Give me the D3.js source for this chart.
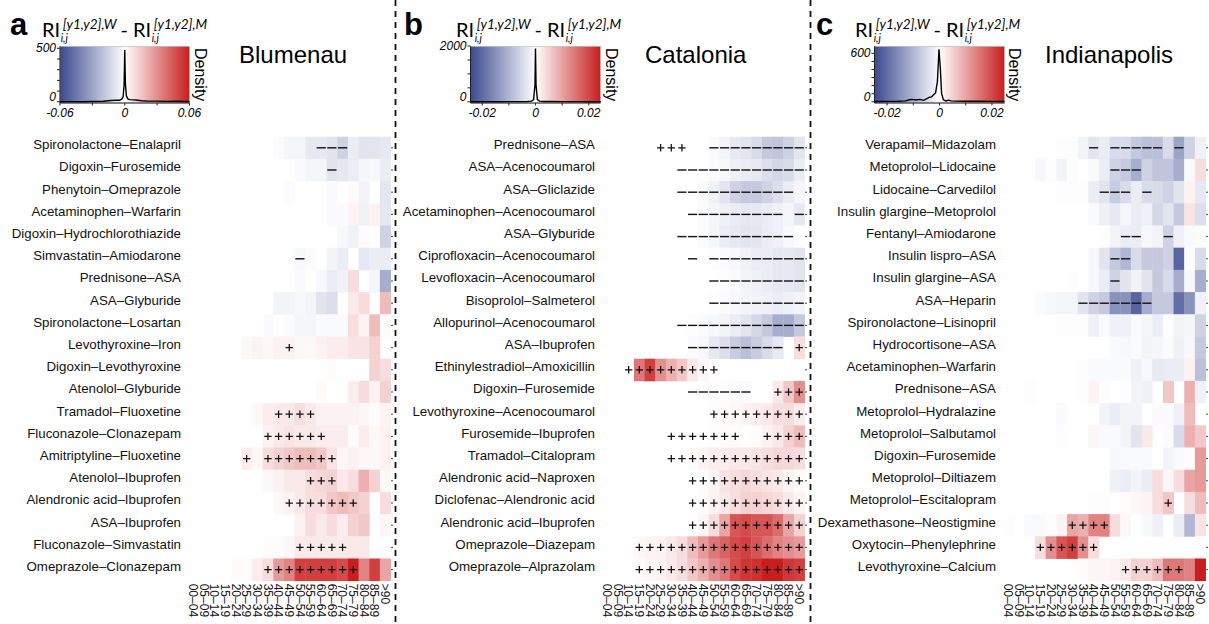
<!DOCTYPE html>
<html><head><meta charset="utf-8">
<script src="https://cdn.jsdelivr.net/npm/d3@7"></script>
<style>body{margin:0;background:#fff}svg{display:block}</style>
</head><body><svg id="chart" width="1209" height="624"></svg>
<script>
// ---------------- DATA ----------------
const ageGroups = ["00–04","05–09","10–14","15–19","20–24","25–29","30–34","35–39","40–44","45–49","50–54","55–59","60–64","65–69","70–74","75–79","80–84","85–89",">90"];

const drugsA = ["Spironolactone–Enalapril","Digoxin–Furosemide","Phenytoin–Omeprazole","Acetaminophen–Warfarin","Digoxin–Hydrochlorothiazide","Simvastatin–Amiodarone","Prednisone–ASA","ASA–Glyburide","Spironolactone–Losartan","Levothyroxine–Iron","Digoxin–Levothyroxine","Atenolol–Glyburide","Tramadol–Fluoxetine","Fluconazole–Clonazepam","Amitriptyline–Fluoxetine","Atenolol–Ibuprofen","Alendronic acid–Ibuprofen","ASA–Ibuprofen","Fluconazole–Simvastatin","Omeprazole–Clonazepam"];
const valuesA = [
 [0,0,0,0,0,0,0,0,-.02,-.05,-.05,-.12,-.12,-.15,-.25,-.1,-.15,-.15,-.12],
 [0,0,0,0,0,0,0,0,0,0,-.02,-.05,-.05,-.15,-.13,-.1,-.05,-.04,-.1],
 [0,0,0,0,0,0,0,0,0,-.02,0,0,0,-.02,0,.02,-.06,0,-.14],
 [0,0,0,0,0,0,0,0,0,0,0,0,0,-.02,-.02,.05,-.07,.06,-.13],
 [0,0,0,0,0,0,0,0,0,0,0,0,0,0,-.04,-.07,.02,0,-.25],
 [0,0,0,0,0,0,0,0,0,0,-.04,-.02,0,-.06,-.1,0,-.13,-.1,-.1],
 [0,0,0,0,0,0,0,0,0,0,-.02,0,-.04,-.1,-.07,.15,0,-.05,-.45],
 [0,0,0,0,0,0,0,0,-.06,-.06,-.04,-.06,-.15,-.18,0,.1,.15,0,.3],
 [0,0,0,0,0,0,0,-.02,0,-.02,-.05,-.05,-.03,-.03,-.03,.15,.05,.3,.02],
 [0,0,0,0,0,.03,.05,.03,.06,.06,.03,.03,.06,.08,.08,.12,.12,.2,0],
 [0,0,0,0,0,0,0,0,0,0,0,0,0,.02,0,0,0,.2,.15],
 [0,0,0,0,0,0,0,0,0,0,0,0,.02,0,0,.08,.15,.06,.2],
 [0,0,0,0,0,0,.03,.08,.1,.1,.15,.1,.06,.06,.06,.06,.04,.02,.05],
 [0,0,0,0,0,0,0,.06,.1,.12,.1,.1,.08,.08,.08,.02,.08,.03,.06],
 [0,0,0,0,0,.08,.04,.15,.2,.25,.3,.3,.25,.12,.04,.06,.03,.03,.06],
 [0,0,0,0,0,0,0,.03,.06,.1,.1,.15,.18,.2,.1,.15,.35,.2,.03],
 [0,0,0,0,0,0,0,0,.03,.06,.1,.15,.15,.25,.3,.25,.2,0,.15],
 [0,0,0,0,0,0,0,0,0,0,.06,.15,.1,.15,.08,.2,.25,0,.04],
 [0,0,0,0,0,0,0,.02,.02,.04,.1,.1,.1,.1,.1,.1,.1,0,0],
 [0,0,0,0,.02,.02,.08,.15,.45,.55,.85,.85,.85,.85,.8,1,.55,.85,.4]
];
const marksA = [
 "............---....",
 ".............-.....",
 "...................",
 "...................",
 "...................",
 "..........-........",
 "...................",
 "...................",
 "...................",
 ".........+.........",
 "...................",
 "...................",
 "........++++.......",
 ".......++++++......",
 ".....+.+++++++.....",
 "...........+++.....",
 ".........+++++++...",
 "...................",
 "..........+++++....",
 ".......+++++++++..."
];

const drugsB = ["Prednisone–ASA","ASA–Acenocoumarol","ASA–Gliclazide","Acetaminophen–Acenocoumarol","ASA–Glyburide","Ciprofloxacin–Acenocoumarol","Levofloxacin–Acenocoumarol","Bisoprolol–Salmeterol","Allopurinol–Acenocoumarol","ASA–Ibuprofen","Ethinylestradiol–Amoxicillin","Digoxin–Furosemide","Levothyroxine–Acenocoumarol","Furosemide–Ibuprofen","Tramadol–Citalopram","Alendronic acid–Naproxen","Diclofenac–Alendronic acid","Alendronic acid–Ibuprofen","Omeprazole–Diazepam","Omeprazole–Alprazolam"];
const valuesB = [
 [0,0,0,0,0,0,0,0,0,0,-.02,-.06,-.12,-.15,-.2,-.3,-.32,-.25,-.15],
 [0,0,0,0,0,0,0,0,0,0,-.02,-.04,-.08,-.1,-.12,-.18,-.22,-.2,-.1],
 [0,0,0,0,0,0,0,0,0,-.02,-.08,-.15,-.25,-.3,-.3,-.25,-.18,-.1,-.05],
 [0,0,0,0,0,0,0,0,0,-.02,-.05,-.08,-.1,-.12,-.12,-.1,-.08,-.05,-.12],
 [0,0,0,0,0,0,0,0,0,-.02,-.05,-.1,-.12,-.15,-.14,-.1,-.08,-.04,-.01],
 [0,0,0,0,0,0,0,0,0,0,-.01,-.02,-.04,-.07,-.1,-.1,-.12,-.12,-.15],
 [0,0,0,0,0,0,0,0,0,0,0,-.01,-.03,-.06,-.08,-.1,-.12,-.12,-.15],
 [0,0,0,0,0,0,0,0,0,0,-.01,-.02,-.04,-.06,-.07,-.08,-.1,-.08,-.06],
 [0,0,0,0,0,0,0,0,-.01,-.02,-.04,-.06,-.1,-.15,-.22,-.3,-.45,-.45,-.3],
 [0,0,0,0,0,0,0,0,-.02,-.04,-.12,-.18,-.28,-.35,-.28,-.2,-.12,0,.15],
 [0,0,0,.6,.85,.5,.35,.25,.1,.03,0,0,0,0,0,0,0,0,0],
 [0,0,0,0,0,0,0,0,0,0,-.01,-.01,-.02,-.02,0,0,.1,.25,.5],
 [0,0,0,0,0,0,0,0,0,0,.01,.02,.03,.05,.08,.1,.15,.15,.08],
 [0,0,0,0,0,0,0,0,0,0,.01,.02,.02,0,.02,.06,.1,.2,.3],
 [0,0,0,0,0,0,0,0,.02,.06,.08,.08,.1,.1,.12,.15,.18,.18,.15],
 [0,0,0,0,0,0,0,0,0,.02,.05,.12,.15,.18,.15,.12,.1,.05,.02],
 [0,0,0,0,0,0,0,0,0,.02,.06,.1,.15,.2,.2,.18,.15,.1,.06],
 [0,0,0,0,0,0,0,0,0,.04,.15,.4,.75,.8,.75,.75,.65,.4,.2],
 [0,0,0,.03,.05,.06,.1,.15,.3,.45,.6,.7,.8,.85,.75,.65,.55,.5,.45],
 [0,0,0,.02,.04,.06,.1,.15,.25,.35,.5,.6,.8,.9,.92,1,1,.9,.85]
];
const marksB = [
 ".....+++..---------",
 ".......------------",
 ".......-----------.",
 "........---------.-",
 ".......-----------.",
 "........-.---------",
 "..........---------",
 "..........---------",
 ".......------------",
 "........---------.+",
 "..+++++++++........",
 "........------..+++",
 "..........+++++++++",
 "......+++++++..++++",
 "......+++++++++++++",
 "........+++++++++++",
 "........+++++++++++",
 "........+++++++++++",
 "...++++++++++++++++",
 "...++++++++++++++++"
];

const drugsC = ["Verapamil–Midazolam","Metoprolol–Lidocaine","Lidocaine–Carvedilol","Insulin glargine–Metoprolol","Fentanyl–Amiodarone","Insulin lispro–ASA","Insulin glargine–ASA","ASA–Heparin","Spironolactone–Lisinopril","Hydrocortisone–ASA","Acetaminophen–Warfarin","Prednisone–ASA","Metoprolol–Hydralazine","Metoprolol–Salbutamol","Digoxin–Furosemide","Metoprolol–Diltiazem","Metoprolol–Escitalopram","Dexamethasone–Neostigmine","Oxytocin–Phenylephrine","Levothyroxine–Calcium"];
const valuesC = [
 [0,0,0,0,0,-.01,-.01,-.06,-.15,-.1,-.2,-.2,-.3,-.35,-.35,-.2,-.5,-.25,-.08],
 [0,0,0,-.04,.01,-.06,-.01,0,-.03,-.1,-.25,-.3,-.45,-.25,-.32,-.32,-.45,-.03,.15],
 [0,0,0,0,0,-.01,.01,-.01,-.1,-.15,-.28,-.2,-.1,-.2,-.2,-.25,-.15,.06,-.12],
 [0,0,0,0,0,0,0,0,-.03,-.08,-.12,-.05,-.1,-.08,-.22,-.15,-.3,.12,-.18],
 [0,0,0,0,0,0,0,0,0,-.01,-.06,-.1,-.1,-.04,-.06,-.25,-.08,-.03,.02],
 [0,0,0,0,0,0,0,0,-.04,-.15,-.3,-.4,-.2,-.3,-.3,-.25,-.85,.01,-.2],
 [0,0,0,0,0,0,.01,0,-.04,-.1,-.25,-.15,-.07,-.15,-.3,-.2,-.45,-.04,-.45],
 [0,0,0,-.02,-.04,-.05,-.05,-.15,-.25,-.3,-.6,-.6,-.85,-.45,-.3,-.3,-.8,-.6,-.07],
 [0,0,0,0,0,-.01,-.01,-.01,-.08,-.03,-.08,-.08,-.03,-.05,-.1,-.01,-.06,-.05,-.25],
 [0,0,0,0,0,0,0,0,0,0,-.03,-.04,-.02,-.06,-.05,-.02,-.08,-.04,-.3],
 [0,0,0,0,0,0,0,-.01,-.03,-.03,-.03,-.03,-.08,-.04,-.12,-.1,-.1,.06,-.35],
 [0,0,.01,0,0,0,0,.01,.05,.01,0,-.01,-.06,-.08,0,.25,0,.35,-.08],
 [0,0,0,0,0,-.02,0,0,0,-.06,-.1,-.06,-.06,0,-.02,-.03,-.08,.3,0],
 [0,0,0,0,0,-.01,0,0,.04,-.03,-.03,-.06,-.15,.1,0,-.02,-.2,.35,.25],
 [0,0,0,0,0,0,0,0,0,0,-.04,-.03,-.03,-.03,0,-.06,-.03,.02,.45],
 [0,0,0,0,0,0,0,0,0,0,-.08,-.1,-.06,-.1,.15,.04,.15,.4,.45],
 [0,0,0,0,0,0,0,0,.01,.01,0,.02,.03,.05,.15,.25,0,.15,.3],
 [.01,0,-.03,-.03,.01,.05,.4,.35,.55,.55,.15,.03,0,-.04,-.08,0,-.1,-.4,.12],
 [0,0,0,.15,.5,.75,.85,.5,.15,0,0,0,0,0,0,0,0,0,.01],
 [0,0,0,0,0,0,0,.02,.04,.04,.05,.1,.2,.2,.3,.6,.6,.55,1]
];
const marksC = [
 "........-.-----.-..",
 "..........---......",
 ".........---.-.....",
 "...................",
 "...........--..-...",
 "..........--.......",
 "..........-........",
 ".......-------.....",
 "...................",
 "...................",
 "...................",
 "...................",
 "...................",
 "...................",
 "...................",
 "...................",
 "...............+...",
 "......++++.........",
 "...++++++..........",
 "...........++++++.."
];

// density curves of RI differences: [difference, density]
const densityA = [[-0.06,1],[-0.05,2],[-0.04,1],[-0.03,3],[-0.02,5],[-0.013,12],[-0.008,16],[-0.005,14],[-0.003,22],[-0.0015,45],[-0.0006,160],[0,484],[0.0006,170],[0.0015,55],[0.003,25],[0.005,20],[0.008,18],[0.012,14],[0.016,10],[0.02,8],[0.03,6],[0.04,4],[0.05,5],[0.055,3],[0.06,2]];
const densityB = [[-0.0245,2],[-0.02,3],[-0.015,4],[-0.01,6],[-0.006,8],[-0.003,12],[-0.0015,25],[-0.0007,80],[-0.0002,600],[0,1908],[0.0002,600],[0.0007,80],[0.0015,25],[0.003,12],[0.006,10],[0.01,8],[0.015,6],[0.02,4],[0.0245,2]];
const densityC = [[-0.0248,3],[-0.02,5],[-0.016,6],[-0.013,12],[-0.0115,25],[-0.0105,30],[-0.009,22],[-0.0075,30],[-0.006,18],[-0.005,35],[-0.004,55],[-0.003,60],[-0.0022,90],[-0.0015,110],[-0.0008,250],[-0.0002,650],[0.0003,420],[0.0008,100],[0.0015,25],[0.0025,10],[0.0035,20],[0.0045,12],[0.006,8],[0.01,6],[0.015,8],[0.02,5],[0.0248,3]];

const cbTickValsA = [-0.06, 0, 0.06], cbTickLabelsA = ["-0.06","0","0.06"];
const cbTickValsB = [-0.02, 0, 0.02], cbTickLabelsB = ["-0.02","0","0.02"];
const cbTickValsC = [-0.02, 0, 0.02], cbTickLabelsC = ["-0.02","0","0.02"];
const densMaxA = 500, densMaxB = 2000, densMaxC = 600;
const cities = ["Blumenau","Catalonia","Indianapolis"];
const panelLetters = ["a","b","c"];

// ---------------- DRAWING ----------------
const svg = d3.select("#chart");
const FONT = "'Liberation Sans', Arial, Helvetica, sans-serif";
const BLUE = "#3b4a8f", RED = "#c81e1e";
const colour = d3.scaleLinear().domain([-1,0,1]).range([BLUE,"#ffffff",RED]).clamp(true);
const cellW = 10.66, rowTop = 136.7, rowH = 22.2;

const defs = svg.append("defs");
const grad = defs.append("linearGradient").attr("id","cbar");
grad.selectAll("stop").data([[0,BLUE],[0.5,"#ffffff"],[1,RED]]).join("stop")
  .attr("offset",d=>d[0]).attr("stop-color",d=>d[1]);

const panels = [
 {names:drugsA, vals:valuesA, marks:marksA, gx:188, letterX:10, titleX:42, cityX:239,
  box:[60,189.5], lim:0.06, ticksX:[-0.06,-0.03,0,0.03,0.06], tv:cbTickValsA, tl:cbTickLabelsA,
  dmax:densMaxA, dtop:48.3, dstep:100, dens:densityA, densX:200},
 {names:drugsB, vals:valuesB, marks:marksB, gx:602, letterX:404, titleX:456, cityX:645,
  box:[470.5,600.5], lim:0.0244, ticksX:[-0.02,-0.01,0,0.01,0.02], tv:cbTickValsB, tl:cbTickLabelsB,
  dmax:densMaxB, dtop:46, dstep:500, dens:densityB, densX:611},
 {names:drugsC, vals:valuesC, marks:marksC, gx:1003, letterX:816, titleX:855, cityX:1045,
  box:[874.5,1004.5], lim:0.0248, ticksX:[-0.02,-0.01,0,0.01,0.02], tv:cbTickValsC, tl:cbTickLabelsC,
  dmax:densMaxC, dtop:53.3, dstep:100, dens:densityC, densX:1014}
];

function drawTitle(g, x0, baseline) {
  const fam = "Lato, 'Open Sans', sans-serif";
  const main = {"font-family":fam,"font-size":"20px","fill":"#000"};
  const sup = {"font-family":fam,"font-size":"13.5px","font-style":"italic","fill":"#000"};
  const sub = {"font-family":fam,"font-size":"10.5px","font-style":"italic","fill":"#000"};
  let x = x0;
  function t(str, style, dx, dy) {
    const el = g.append("text").attr("x", x + (dx||0)).attr("y", baseline + (dy||0)).text(str);
    Object.entries(style).forEach(([k,v]) => el.attr(k, v));
    return el.node().getComputedTextLength();
  }
  ["W","M"].forEach((sex, i) => {
    const w = t("RI", main);
    x += w + 0.5;
    const ws = t("i,j", sub, 0, 4.5);
    const wp = t("[y1,y2]," + sex, sup, 2, -7.8);
    x += Math.max(ws, wp + 2);
    if (i === 0) { x += 4; const wd = t("-", main); x += wd + 5; }
  });
}

panels.forEach((p, pi) => {
  const g = svg.append("g");
  const x = d3.scaleBand().domain(ageGroups).range([p.gx, p.gx + ageGroups.length*cellW]);
  const y = d3.scaleBand().domain(p.names).range([rowTop, rowTop + p.names.length*rowH]);

  const cells = [];
  p.names.forEach((name, r) => p.vals[r].forEach((v, c) => cells.push({name, age:ageGroups[c], v, m:p.marks[r][c]})));

  g.selectAll("rect.cell").data(cells.filter(d => d.v !== 0)).join("rect")
    .attr("class","cell")
    .attr("x", d => x(d.age)).attr("y", d => y(d.name))
    .attr("width", x.bandwidth() + 0.4).attr("height", y.bandwidth() + 0.4)
    .attr("fill", d => colour(d.v));

  // significance markers
  const mk = cells.filter(d => d.m !== ".");
  g.selectAll("path.mk").data(mk).join("path")
    .attr("class","mk")
    .attr("d", d => {
      const cx = x(d.age) + x.bandwidth()/2, cy = y(d.name) + y.bandwidth()/2;
      if (d.m === "+") return `M${cx-3.7},${cy}H${cx+3.7}M${cx},${cy-3.7}V${cy+3.7}`;
      return `M${cx-4.6},${cy}H${cx+4.6}`;
    })
    .attr("stroke","#111").attr("stroke-width", d => d.m === "+" ? 1.25 : 1.4).attr("fill","none");

  // small ticks on right edge
  const rx = p.gx + ageGroups.length*cellW;
  g.selectAll("line.rt").data(p.names).join("line")
    .attr("x1", rx + 0.5).attr("x2", rx + 2.5)
    .attr("y1", d => y(d) + y.bandwidth()/2).attr("y2", d => y(d) + y.bandwidth()/2)
    .attr("stroke","#444").attr("stroke-width",1);

  // row labels
  g.selectAll("text.rl").data(p.names).join("text")
    .attr("x", p.gx - 7).attr("y", d => y(d) + y.bandwidth()/2 + 1.3)
    .attr("text-anchor","end").attr("font-family",FONT).attr("font-size","13.3px").attr("fill","#111")
    .text(d => d);

  // column labels (rotated)
  g.selectAll("text.cl").data(ageGroups).join("text")
    .attr("transform", d => `translate(${x(d) + x.bandwidth()/2},${rowTop + 20*rowH + 3}) rotate(90)`)
    .attr("dy","0.36em").attr("font-family",FONT).attr("font-size","12px").attr("fill","#111")
    .text(d => d);

  // panel letter
  g.append("text").attr("x", p.letterX).attr("y", 35).attr("font-family",FONT)
    .attr("font-weight","bold").attr("font-size","31px").text(panelLetters[pi]);

  // title
  drawTitle(g, p.titleX, 37);

  // city
  g.append("text").attr("x", p.cityX).attr("y", 63).attr("font-family",FONT)
    .attr("font-size","24px").text(cities[pi]);

  // colour bar with density
  const bx = d3.scaleLinear().domain([-p.lim, p.lim]).range(p.box);
  const by = d3.scaleLinear().domain([0, p.dmax]).range([101.8, p.dtop]);
  const boxTop = 46.3, boxBot = 103;
  g.append("rect").attr("x", p.box[0]).attr("y", boxTop).attr("width", p.box[1]-p.box[0]).attr("height", boxBot-boxTop)
    .attr("fill","url(#cbar)").attr("stroke","#bbb").attr("stroke-width",0.6);
  g.append("path").datum(p.dens)
    .attr("d", d3.line().x(d => bx(d[0])).y(d => by(d[1])))
    .attr("fill","none").attr("stroke","#000").attr("stroke-width",1.4);
  // y axis
  g.append("line").attr("x1",p.box[0]).attr("x2",p.box[0]).attr("y1",boxTop).attr("y2",boxBot).attr("stroke","#222");
  g.selectAll("line.yt").data(d3.range(0, p.dmax + 1e-9, p.dstep)).join("line")
    .attr("x1", p.box[0]-3).attr("x2", p.box[0]).attr("y1", d => by(d)).attr("y2", d => by(d))
    .attr("stroke","#222");
  g.selectAll("text.yl").data([0, p.dmax]).join("text")
    .attr("x", p.box[0]-4).attr("y", d => by(d) + (d === 0 ? -0.5 : 4))
    .attr("text-anchor","end").attr("font-family",FONT).attr("font-style","italic").attr("font-size","12px")
    .text(d => d);
  // x axis
  g.append("line").attr("x1",p.box[0]).attr("x2",p.box[1]).attr("y1",boxBot).attr("y2",boxBot).attr("stroke","#222");
  g.selectAll("line.xt").data(p.ticksX).join("line")
    .attr("x1", d => bx(d)).attr("x2", d => bx(d)).attr("y1", boxBot).attr("y2", boxBot + 2.5)
    .attr("stroke","#222");
  g.selectAll("text.xl").data(p.tv).join("text")
    .attr("x", d => bx(d)).attr("y", 117).attr("text-anchor","middle")
    .attr("font-family",FONT).attr("font-style","italic").attr("font-size","12px")
    .text((d,i) => p.tl[i]);
  // Density label
  g.append("text").attr("transform", `translate(${p.densX - 5.5},${(boxTop+boxBot)/2}) rotate(90)`)
    .attr("text-anchor","middle").attr("font-family",FONT).attr("font-size","16px").text("Density");
});

// dashed separators
svg.selectAll("line.sep").data([395.5, 810.5]).join("line")
  .attr("x1", d => d).attr("x2", d => d).attr("y1", 0).attr("y2", 624)
  .attr("stroke","#111").attr("stroke-width",1.8).attr("stroke-dasharray","6,5");
</script></body></html>
